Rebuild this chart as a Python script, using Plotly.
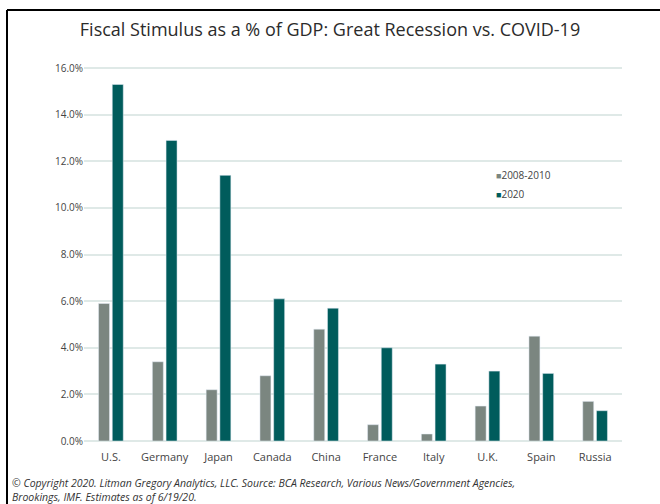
import plotly.graph_objects as go

countries = ["U.S.", "Germany", "Japan", "Canada", "China", "France", "Italy", "U.K.", "Spain", "Russia"]
gr_2008_2010 = [5.9, 3.4, 2.2, 2.8, 4.8, 0.7, 0.3, 1.5, 4.5, 1.7]
covid_2020 = [15.3, 12.9, 11.4, 6.1, 5.7, 4.0, 3.3, 3.0, 2.9, 1.3]
y_ticks = [0, 2, 4, 6, 8, 10, 12, 14, 16]
y_tick_text = [f"{v:.1f}%" for v in y_ticks]
series_names = ["2008-2010", "2020"]

GRAY = "#7b8680"
TEAL = "#005c5c"
W, H = 660, 504
FONT = "Open Sans, sans-serif"

fig = go.Figure()
fig.add_trace(go.Bar(x=countries, y=gr_2008_2010, name=series_names[0], marker_color=GRAY))
fig.add_trace(go.Bar(x=countries, y=covid_2020, name=series_names[1], marker_color=TEAL))

legend_ann = []
for i, (nm, col) in enumerate(zip(series_names, [GRAY, TEAL])):
    legend_ann.append(dict(
        text=f"<span style='color:{col};font-size:9px'>■</span>{nm}",
        xref="paper", yref="paper", x=494 / W, y=1 - (175 + 19 * i) / H,
        xanchor="left", yanchor="middle", showarrow=False,
        font=dict(size=10, color="#444", family=FONT)))

fig.update_layout(
    width=W, height=H,
    margin=dict(l=0, r=0, t=0, b=0, autoexpand=False),
    paper_bgcolor="white", plot_bgcolor="white",
    barmode="group", bargap=0.49, bargroupgap=0.2,
    showlegend=False,
    font=dict(family=FONT, color="#444"),
    title=dict(text="Fiscal Stimulus as a % of GDP: Great Recession vs. COVID-19",
               x=0.5, xanchor="center", y=1 - 30 / H, yanchor="middle",
               font=dict(size=18, color="#2b2b2b", family=FONT)),
    xaxis=dict(domain=[84 / W, 622 / W], showgrid=False, showline=False, automargin=False,
               ticks="", ticklabelstandoff=8, tickfont=dict(size=11, color="#444")),
    yaxis=dict(domain=[1 - 441 / H, 1 - 67 / H], range=[0, 16.05], automargin=False,
               tickvals=y_ticks, ticktext=y_tick_text,
               showgrid=True, gridcolor="#dfe9e7", gridwidth=2,
               zeroline=True, zerolinecolor="#dfe9e7", zerolinewidth=2,
               showline=False, ticks="", tickfont=dict(size=10, color="#444")),
    shapes=[
        dict(type="line", xref="paper", yref="paper", x0=7 / W, x1=1, y0=1 - 10 / H, y1=1 - 10 / H,
             line=dict(color="black", width=2)),
        dict(type="line", xref="paper", yref="paper", x0=7 / W, x1=7 / W, y0=0, y1=1 - 10 / H,
             line=dict(color="black", width=2)),
    ],
    annotations=legend_ann + [
        dict(text="<i>© Copyright 2020. Litman Gregory Analytics, LLC. Source: BCA Research, Various News/Government Agencies,<br>Brookings, IMF. Estimates as of 6/19/20.</i>",
             xref="paper", yref="paper", x=10 / W, y=1 - 474 / H, xanchor="left", yanchor="top",
             align="left", showarrow=False, font=dict(size=10.5, color="#333", family=FONT)),
    ],
)

fig.write_html("out.html")
